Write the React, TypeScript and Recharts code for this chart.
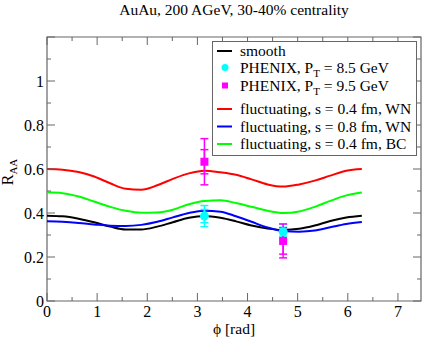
import {
    ComposedChart,
    Line,
    Scatter,
    XAxis,
    YAxis,
    ErrorBar,
    ReferenceArea,
    Label
} from 'recharts';

// azimuthal angle grid (rad)
const phi = [0, 0.31, 0.63, 0.94, 1.26, 1.57, 1.88, 2.2, 2.51, 2.83, 3.14, 3.46, 3.77, 4.08, 4.4, 4.71, 5.03, 5.34, 5.65, 5.97, 6.28];

// R_AA curves
const smooth = [0.388, 0.385, 0.374, 0.358, 0.338, 0.325, 0.325, 0.338, 0.358, 0.378, 0.386, 0.378, 0.362, 0.343, 0.329, 0.323, 0.328, 0.343, 0.364, 0.380, 0.388];
const flucS04WN = [0.600, 0.597, 0.586, 0.566, 0.535, 0.510, 0.506, 0.526, 0.555, 0.580, 0.592, 0.585, 0.574, 0.553, 0.530, 0.520, 0.530, 0.547, 0.570, 0.592, 0.600];
const flucS08WN = [0.362, 0.360, 0.355, 0.348, 0.342, 0.341, 0.346, 0.360, 0.380, 0.400, 0.410, 0.406, 0.385, 0.360, 0.334, 0.318, 0.315, 0.320, 0.335, 0.350, 0.359];
const flucS04BC = [0.494, 0.490, 0.475, 0.452, 0.428, 0.410, 0.401, 0.402, 0.415, 0.440, 0.455, 0.458, 0.445, 0.428, 0.410, 0.400, 0.407, 0.428, 0.455, 0.480, 0.493];

// PHENIX points (in-plane / out-of-plane)
const phenixPhi = [3.14, 4.71];
const phenix85 = [0.386, 0.315];
const phenix85Stat = [0.03, 0.02];
const phenix85Sys = [0.048, 0.035];
const phenix95 = [0.633, 0.273];
const phenix95Stat = [0.055, 0.06];
const phenix95Sys = [0.105, 0.077];

const xTicks = [0, 0.5, 1, 1.5, 2, 2.5, 3, 3.5, 4, 4.5, 5, 5.5, 6, 6.5, 7];
const yTicks = [0, 0.1, 0.2, 0.3, 0.4, 0.5, 0.6, 0.7, 0.8, 0.9, 1, 1.1, 1.2];

const curveData = phi.map((p, i) => ({
    phi: p,
    smooth: smooth[i],
    s04wn: flucS04WN[i],
    s08wn: flucS08WN[i],
    s04bc: flucS04BC[i],
}));

const pt85 = phenixPhi.map((p, i) => ({ phi: p, r: phenix85[i], stat: phenix85Stat[i], sys: phenix85Sys[i] }));
const pt95 = phenixPhi.map((p, i) => ({ phi: p, r: phenix95[i], stat: phenix95Stat[i], sys: phenix95Sys[i] }));

const W = 425;
const H = 337;
const PLOT_TOP = 37;
const PLOT_RIGHT = 421;
const FRAME = '#666';
const FONT = '"Liberation Serif", "DejaVu Serif", serif';

function XTick(props: any) {
    const { x, y, payload } = props;
    const v = payload.value;
    const major = Math.abs(v - Math.round(v)) < 1e-6;
    const len = major ? 8 : 4;
    return (
        <g>
            <line x1={x} x2={x} y1={y} y2={y - len} stroke={FRAME} />
            <line x1={x} x2={x} y1={PLOT_TOP} y2={PLOT_TOP + len} stroke={FRAME} />
            {major && (
                <text x={x} y={y + 15.5} textAnchor="middle" fontFamily={FONT} fontSize={16} fill="#000">
                    {v}
                </text>
            )}
        </g>
    );
}

function YTick(props: any) {
    const { x, y, payload } = props;
    const v = payload.value;
    const k = Math.round(v * 10);
    const major = k % 2 === 0;
    const len = major ? 8 : 4;
    return (
        <g>
            <line x1={x} x2={x + len} y1={y} y2={y} stroke={FRAME} />
            <line x1={PLOT_RIGHT} x2={PLOT_RIGHT - len} y1={y} y2={y} stroke={FRAME} />
            {major && k < 12 && (
                <text x={x - 3} y={y} dy="0.35em" textAnchor="end" fontFamily={FONT} fontSize={16} fill="#000">
                    {k === 0 ? '0' : k === 10 ? '1' : (k / 10).toString()}
                </text>
            )}
        </g>
    );
}

const legendRows = [
    { label: 'smooth', color: '#000000', kind: 'line' },
    { label: 'PHENIX, P', sub: 'T', rest: ' = 8.5 GeV', color: '#00ffff', kind: 'circle' },
    { label: 'PHENIX, P', sub: 'T', rest: ' = 9.5 GeV', color: '#ff00ff', kind: 'square' },
    { label: 'fluctuating, s = 0.4 fm, WN', color: '#ff0000', kind: 'line' },
    { label: 'fluctuating, s = 0.8 fm, WN', color: '#0000ff', kind: 'line' },
    { label: 'fluctuating, s = 0.4 fm, BC', color: '#00ff00', kind: 'line' },
];
const legendBaselines = [56, 72.5, 90.5, 114, 131.5, 149];

export default function App() {
    return (
        <div style={{ position: 'absolute', left: 0, top: 0, width: W, height: H, background: '#fff' }}>
            <ComposedChart
                width={W}
                height={H}
                data={curveData}
                margin={{ top: PLOT_TOP, right: W - PLOT_RIGHT, left: 0, bottom: 0 }}
            >
                <XAxis
                    type="number"
                    dataKey="phi"
                    domain={[0, 7.46]}
                    ticks={xTicks}
                    interval={0}
                    allowDataOverflow
                    height={36}
                    tickSize={0}
                    tickMargin={0}
                    axisLine={false}
                    tickLine={false}
                    tick={<XTick />}
                >
                    <Label
                        content={(p: any) => (
                            <text
                                x={p.viewBox.x + p.viewBox.width / 2}
                                y={p.viewBox.y + 33}
                                textAnchor="middle"
                                fontFamily={FONT}
                                fontSize={15.5}
                                fill="#000"
                            >
                                ϕ [rad]
                            </text>
                        )}
                    />
                </XAxis>
                <YAxis
                    type="number"
                    domain={[0, 1.2]}
                    ticks={yTicks}
                    interval={0}
                    allowDataOverflow
                    width={47}
                    tickSize={0}
                    tickMargin={0}
                    axisLine={false}
                    tickLine={false}
                    tick={<YTick />}
                >
                    <Label
                        content={(p: any) => {
                            const cy = p.viewBox.y + p.viewBox.height / 2 + 3;
                            return (
                                <text
                                    x={13}
                                    y={cy}
                                    transform={`rotate(-90, 13, ${cy})`}
                                    textAnchor="middle"
                                    fontFamily={FONT}
                                    fontSize={16}
                                    fill="#000"
                                >
                                    R<tspan fontSize={11} dy={4}>AA</tspan>
                                </text>
                            );
                        }}
                    />
                </YAxis>
                <ReferenceArea x1={0} x2={7.46} y1={0} y2={1.2} fill="none" stroke={FRAME} strokeWidth={1.2} />

                <Line type="monotone" dataKey="smooth" stroke="#000000" strokeWidth={2} dot={false} isAnimationActive={false} />
                <Line type="monotone" dataKey="s04wn" stroke="#ff0000" strokeWidth={2} dot={false} isAnimationActive={false} />
                <Line type="monotone" dataKey="s08wn" stroke="#0000ff" strokeWidth={2} dot={false} isAnimationActive={false} />
                <Line type="monotone" dataKey="s04bc" stroke="#00ff00" strokeWidth={2} dot={false} isAnimationActive={false} />

                <Scatter
                    data={pt85}
                    dataKey="r"
                    isAnimationActive={false}
                    shape={(p: any) => <circle cx={p.cx} cy={p.cy} r={4.5} fill="#00ffff" />}
                >
                    <ErrorBar dataKey="sys" direction="y" width={4} stroke="#00ffff" strokeWidth={1.5} />
                    <ErrorBar dataKey="stat" direction="y" width={4} stroke="#00ffff" strokeWidth={1.5} />
                </Scatter>
                <Scatter
                    data={pt95}
                    dataKey="r"
                    isAnimationActive={false}
                    shape={(p: any) => <rect x={p.cx - 4} y={p.cy - 4} width={8} height={8} fill="#ff00ff" />}
                >
                    <ErrorBar dataKey="sys" direction="y" width={4} stroke="#ff00ff" strokeWidth={1.5} />
                    <ErrorBar dataKey="stat" direction="y" width={4} stroke="#ff00ff" strokeWidth={1.5} />
                </Scatter>
            </ComposedChart>

            {/* title + legend */}
            <svg width={W} height={H} style={{ position: 'absolute', left: 0, top: 0, pointerEvents: 'none' }}>
                <text x={234} y={14.5} textAnchor="middle" fontFamily={FONT} fontSize={15.5} fill="#000">
                    AuAu, 200 AGeV, 30-40% centrality
                </text>
                <rect x={212.5} y={41.5} width={204} height={114} fill="#fff" stroke={FRAME} />
                {legendRows.map((row, i) => {
                    const by = legendBaselines[i];
                    const cy = by - 5;
                    return (
                        <g key={row.label + i}>
                            {row.kind === 'line' && (
                                <line x1={217} x2={232} y1={cy} y2={cy} stroke={row.color} strokeWidth={2} />
                            )}
                            {row.kind === 'circle' && <circle cx={225} cy={cy} r={3.5} fill={row.color} />}
                            {row.kind === 'square' && <rect x={222} y={cy - 3} width={6} height={6} fill={row.color} />}
                            <text x={240} y={by} fontFamily={FONT} fontSize={15.5} fill="#000">
                                {row.label}
                                {row.sub && (
                                    <tspan fontSize={11} dy={4}>
                                        {row.sub}
                                    </tspan>
                                )}
                                {row.rest && <tspan dy={-4}>{row.rest}</tspan>}
                            </text>
                        </g>
                    );
                })}
            </svg>
        </div>
    );
}
